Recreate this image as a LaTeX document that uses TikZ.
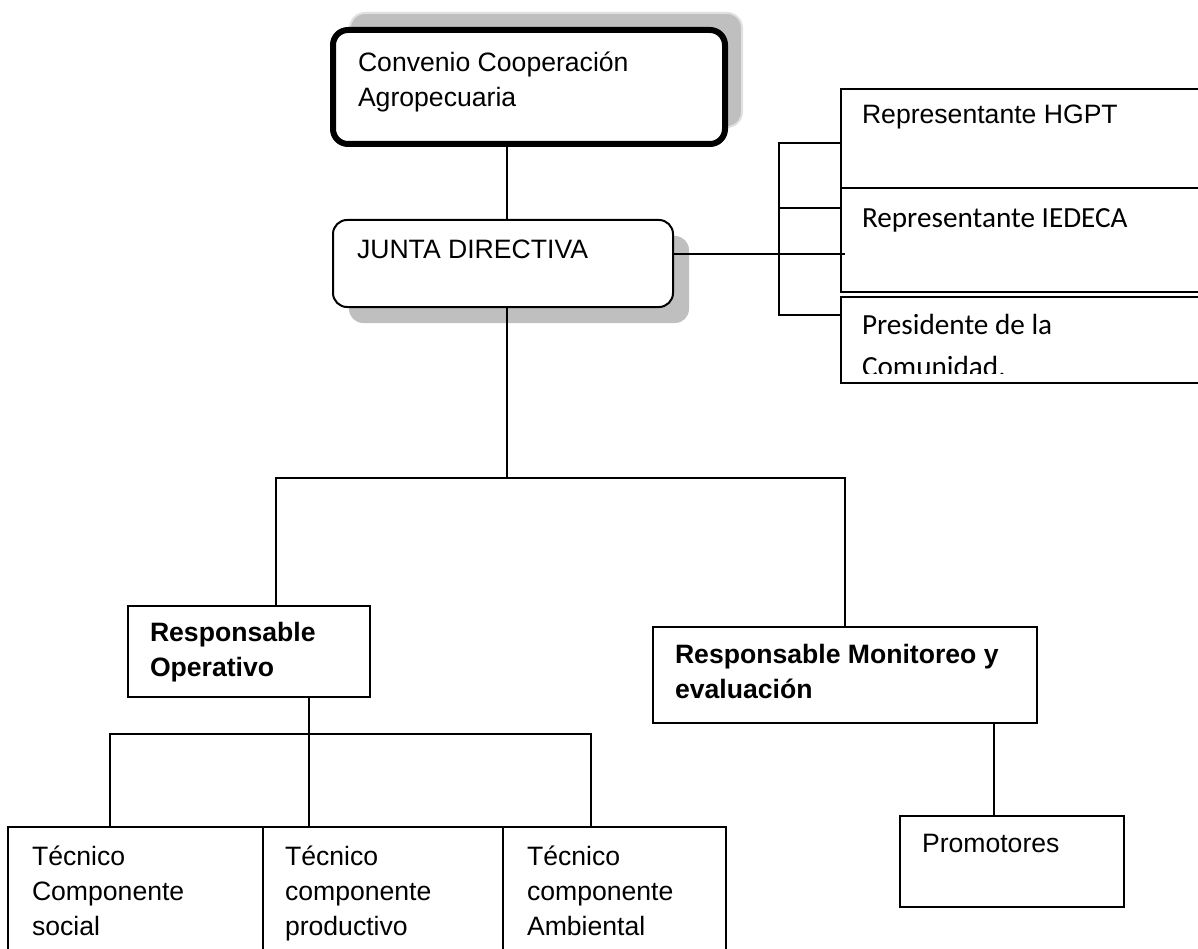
\documentclass[tikz,border=0pt]{standalone}
\usepackage{fontspec}
\setmainfont{Liberation Sans}
\newfontfamily\calfont{Carlito}
\usetikzlibrary{shadows}
\newcommand{\cajatxt}[4]{\parbox[t][#1][t]{#2}{\raggedright\rule{0pt}{#3}#4}}
\tikzset{
  caja/.style={draw, line width=2pt, anchor=north west, inner ysep=0pt, outer sep=0pt, fill=white},
  arial/.style={font=\fontsize{26.6}{35}\selectfont},
  calibri/.style={font=\calfont\fontsize{29.2}{42}\selectfont},
  linea/.style={line width=2pt},
}
\begin{document}
\begin{tikzpicture}[x=1pt,y=-1pt]

\useasboundingbox (0,0) rectangle (1198,949);
\clip (0,0) rectangle (1198,949);
\node (conv) at (333,30) [caja, arial, line width=6pt, rounded corners=15pt, inner xsep=25pt, drop shadow={opacity=1, fill=black!25, draw=black!12, line width=2pt, shadow xshift=17pt, shadow yshift=17pt}] {\cajatxt{114pt}{342pt}{42pt}{Convenio Cooperación\\Agropecuaria}};
\node (junta) at (333,220) [caja, arial, rounded corners=14pt, inner xsep=24pt, drop shadow={opacity=1, fill=black!25, shadow xshift=16pt, shadow yshift=-16pt}] {\cajatxt{87pt}{292pt}{39pt}{JUNTA DIRECTIVA}};
\node (hgpt) at (841,89) [caja, arial, inner xsep=21pt] {\cajatxt{99pt}{329pt}{35pt}{Representante HGPT}};
\node (iedeca) at (841,188) [caja, calibri, inner xsep=21pt] {\cajatxt{104pt}{329pt}{40pt}{Representante IEDECA}};
\node (pres) at (841,297) [caja, minimum width=371pt, minimum height=86pt, path picture={
  \clip (path picture bounding box.north west) rectangle ([yshift=10pt]path picture bounding box.south east);
  \node (presTxt) at ([xshift=21pt]path picture bounding box.north west) [calibri, draw=none, fill=none, anchor=north west, inner sep=0pt, minimum width=0pt, minimum height=0pt] {\cajatxt{86pt}{329pt}{37pt}{Presidente de la\\Comunidad.}};
}] {};
\node (op) at (128,606) [caja, arial, inner xsep=22pt] {\cajatxt{91pt}{198pt}{35pt}{\bfseries Responsable\\Operativo}};
\node (mon) at (653,627) [caja, arial, inner xsep=22pt] {\cajatxt{96pt}{340pt}{36pt}{\bfseries Responsable Monitoreo y\\evaluación}};
\node (prom) at (900,816) [caja, arial, inner xsep=22pt] {\cajatxt{91pt}{180pt}{36pt}{Promotores}};
\node (tec1) at (8,827) [caja, arial, inner xsep=24pt] {\cajatxt{135pt}{207pt}{38pt}{Técnico\\Componente\\social}};
\node (tec2) at (263,827) [caja, arial, inner xsep=22pt] {\cajatxt{135pt}{196pt}{38pt}{Técnico\\componente\\productivo}};
\node (tec3) at (503,827) [caja, arial, inner xsep=24pt] {\cajatxt{135pt}{175pt}{38pt}{Técnico\\componente\\Ambiental}};

\coordinate (jx) at (507,478);
\coordinate (busL) at (276,478);
\coordinate (busR) at (845,478);
\coordinate (jr) at (779,254);
\coordinate (r1) at (779,143);
\coordinate (r2) at (779,208);
\coordinate (r3) at (779,315);
\coordinate (od) at (309,734);
\coordinate (t1) at (110,734);
\coordinate (t3) at (591,734);
\coordinate (mx) at (994,770);
\draw [linea] (jx |- conv.south) -- (jx |- junta.north);
\draw [linea] (jx |- junta.south) -- (jx);
\draw [linea] (op.north -| busL) -- (busL) -- (busR) -- (mon.north);
\draw [linea] (junta.east |- jr) -- ([xshift=4pt]iedeca.west |- jr);
\draw [linea] (hgpt.west |- r1) -- (r1) -- (r3) -- (pres.west |- r3);
\draw [linea] (r2) -- (iedeca.west |- r2);
\draw [linea] (op.south -| od) -- (od) -- (tec2.north -| od);
\draw [linea] (tec1.north -| t1) -- (t1) -- (t3) -- (tec3.north -| t3);
\draw [linea] (mon.south -| mx) -- (prom.north -| mx);
\end{tikzpicture}
\end{document}
